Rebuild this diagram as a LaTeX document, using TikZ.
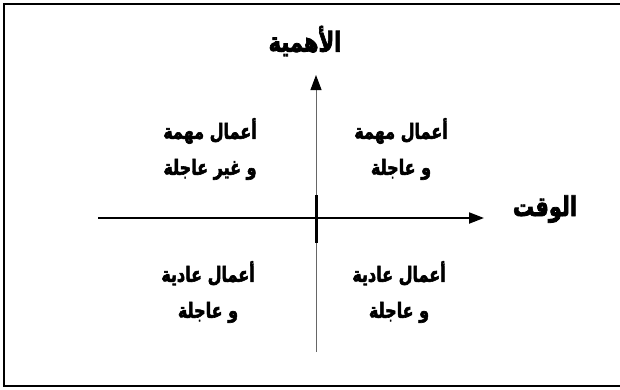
\documentclass[tikz,border=0pt]{standalone}
\usepackage{fontspec}
\usepackage{graphicx}
\usetikzlibrary{arrows.meta}
\TeXXeTstate=1
\newfontfamily\arabicfont[Script=Arabic,BoldFeatures={FakeBold=3}]{DejaVu Sans}
\newcommand{\tallline}[1]{\scalebox{1}[1.3]{\beginR #1\endR}}
\begin{document}
\begin{tikzpicture}[x=1pt,y=-1pt,
  lbl/.style={font=\arabicfont\bfseries\fontsize{16}{36}\selectfont, align=center, inner sep=0pt},
  ttl/.style={font=\arabicfont\bfseries\fontsize{21}{24}\selectfont, inner sep=0pt},
  axisline/.style={line width=2pt, black},
  thinline/.style={line width=1pt, black!60},
  tip/.style={-{Triangle[length=15pt,width=11pt,fill=black,color=black]}},
  frame/.style={line width=2pt, black}]
\useasboundingbox (0,0) rectangle (620,389);
\draw[frame] (640,4) -- (4,4) -- (4,386) -- (640,386);
\coordinate (o) at (316,218);
\coordinate (vtop) at (316,75);
\coordinate (vbot) at (316,352);
\coordinate (hleft) at (98,218);
\coordinate (hright) at (484,218);
\coordinate (ttop) at (316,195);
\coordinate (tbot) at (316,243);
\draw[thinline,tip] (vbot) -- (vtop);
\draw[axisline,tip] (hleft) -- (hright);
\draw[line width=3pt] (ttop) -- (tbot);
\node[ttl] (imp) at (305,41) {\tallline{الأهمية}};
\node[ttl] (time) at (545,209) {\tallline{الوقت}};
\node[lbl] (q1) at (401,149) {\tallline{أعمال مهمة}\\\tallline{و عاجلة}};
\node[lbl] (q2) at (210,149) {\tallline{أعمال مهمة}\\\tallline{و غير عاجلة}};
\node[lbl] (q3) at (208,292) {\tallline{أعمال عادية}\\\tallline{و عاجلة}};
\node[lbl] (q4) at (399,292) {\tallline{أعمال عادية}\\\tallline{و عاجلة}};
\end{tikzpicture}
\end{document}
